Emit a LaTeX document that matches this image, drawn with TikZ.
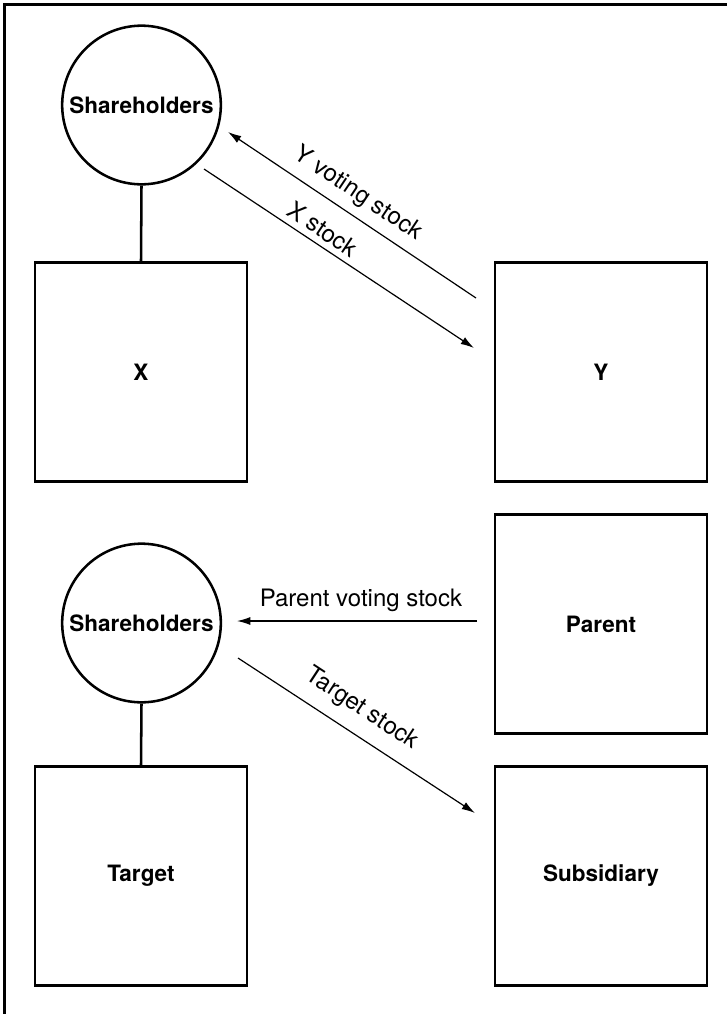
\documentclass[tikz,border=0pt]{standalone}
\usepackage{fontspec}
\setmainfont{TeX Gyre Heros}
\usetikzlibrary{arrows.meta}
\begin{document}
\begin{tikzpicture}[x=0.75pt,y=-0.75pt,
  holders/.style={draw, circle, line width=1.9pt, minimum size=119pt, inner sep=0pt,
    font=\fontsize{16.9}{18}\selectfont\bfseries},
  entity/.style={draw, rectangle, line width=2.2pt, minimum width=159pt, minimum height=164pt,
    inner sep=0pt, font=\fontsize{16.9}{18}\selectfont\bfseries},
  link/.style={line width=1.9pt},
  flow/.style={line width=0.9pt, -{Latex[length=10pt,width=6pt]}},
  flowlabel/.style={font=\fontsize{18}{20}\selectfont, inner sep=0pt}]
\useasboundingbox (0,0) rectangle (727,1014);

% open frame: top and left edges only
\draw[line width=2.2pt] (727,4.5) -- (4.5,4.5) -- (4.5,1014);

% upper transaction
\node[holders] (shA) at (141.5,105) {Shareholders};
\node[entity] (X) at (141,372) {X};
\node[entity] (Y) at (601,372) {Y};
\draw[link] (shA.south) -- (X.north);

\coordinate (yvsTail) at (476,298);
\coordinate (yvsTip) at (228,132);
\coordinate (xsTail) at (204,169);
\coordinate (xsTip) at (474,348);
\draw[flow] (yvsTail) -- (yvsTip);
\draw[flow] (xsTail) -- (xsTip);
\node[flowlabel, rotate=-33.8] (yvsLabel) at (358,194) {Y voting stock};
\node[flowlabel, rotate=-33.8] (xsLabel) at (323,229) {X stock};

% lower transaction
\node[holders] (shB) at (141.5,623) {Shareholders};
\node[entity] (T) at (141,876) {Target};
\node[entity] (P) at (601,624) {Parent};
\node[entity] (S) at (601,876) {Subsidiary};
\draw[link] (shB.south) -- (T.north);

\coordinate (pvsTail) at (477,621);
\coordinate (pvsTip) at (237,621);
\coordinate (tsTail) at (238,658);
\coordinate (tsTip) at (475,813);
\draw[flow] (pvsTail) -- (pvsTip);
\draw[flow] (tsTail) -- (tsTip);
\node[flowlabel] (pvsLabel) at (361,600) {Parent voting stock};
\node[flowlabel, rotate=-33.3] (tsLabel) at (362,709) {Target stock};
\end{tikzpicture}
\end{document}
